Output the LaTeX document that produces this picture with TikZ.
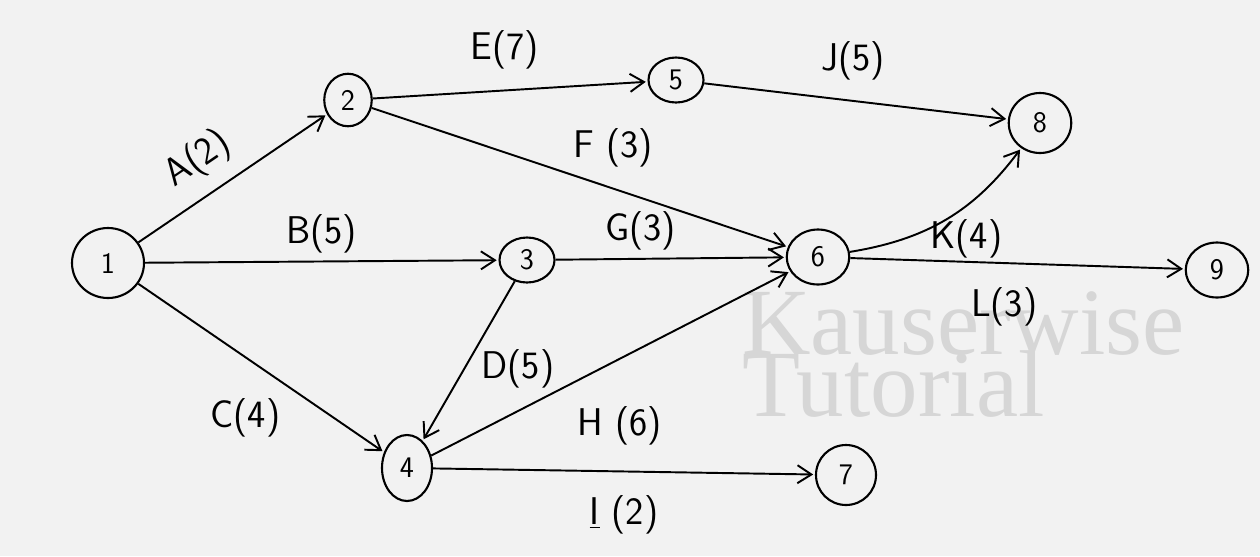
\documentclass[tikz,border=0pt]{standalone}
\usepackage{fontspec}
\newfontfamily\markfont{Liberation Serif}
\usetikzlibrary{shapes.geometric,arrows.meta}

\begin{document}
\begin{tikzpicture}[x=0.2mm,y=-0.2mm,
  ev/.style={ellipse,draw,line width=1.2pt,inner sep=0pt,
    font=\sffamily\fontsize{17}{17}\selectfont},
  act/.style={-{Straight Barb[length=2.8mm,width=3.6mm]},line width=1.1pt,shorten >=1pt},
  lab/.style={font=\sffamily\fontsize{22}{22}\selectfont}]
 \useasboundingbox (0,0) rectangle (1260,556);
 \fill[black!5] (0,0) rectangle (1260,556);
 % watermark
 \node[anchor=base west,text=black!16,font=\markfont\fontsize{54}{54}\selectfont]
   (wm1) at (736,354) {Kauserwise};
 \node[anchor=base west,text=black!16,font=\markfont\fontsize{54}{54}\selectfont]
   (wm2) at (736,416) {Tutorial};
 % events
 \node[ev,minimum width=1.44cm,minimum height=1.4cm] (n1) at (108,263) {1};
 \node[ev,minimum width=0.95cm,minimum height=1.05cm] (n2) at (348,100) {2};
 \node[ev,minimum width=1.1cm,minimum height=0.9cm] (n3) at (527,260) {3};
 \node[ev,minimum width=1.0cm,minimum height=1.32cm] (n4) at (407,468) {4};
 \node[ev,minimum width=1.1cm,minimum height=0.9cm] (n5) at (676,80) {5};
 \node[ev,minimum width=1.25cm,minimum height=1.1cm] (n6) at (818,257) {6};
 \node[ev,minimum width=1.2cm,minimum height=1.2cm] (n7) at (846,475) {7};
 \node[ev,minimum width=1.25cm,minimum height=1.2cm] (n8) at (1040,123) {8};
 \node[ev,minimum width=1.25cm,minimum height=1.1cm] (n9) at (1217,270) {9};
 % activities
 \draw[act] (n1) -- node[lab,pos=0.42,above=5pt,sloped] (lA) {A(2)} (n2);
 \draw[act] (n1) -- node[lab,pos=0.5,above=1pt] (lB) {B(5)} (n3);
 \draw[act] (n1) -- node[lab,pos=0.62,below left=2pt] (lC) {C(4)} (n4);
 \draw[act] (n3) -- node[lab,pos=0.55,right=6pt] (lD) {D(5)} (n4);
 \draw[act] (n2) -- node[lab,pos=0.48,above=8pt] (lE) {E(7)} (n5);
 \draw[act] (n2) -- node[lab,pos=0.58,above=8pt] (lF) {F (3)} (n6);
 \draw[act] (n3) -- node[lab,pos=0.37,above=1pt] (lG) {G(3)} (n6);
 \draw[act] (n4) -- node[lab,pos=0.36,below right=6pt] (lH) {H (6)} (n6);
 \draw[act] (n4) -- node[lab,pos=0.5,below=10pt] (lI) {\underline{I} (2)} (n7);
 \draw[act] (n5) -- node[lab,pos=0.49,above=8pt] (lJ) {J(5)} (n8);
 \draw[act] (n6) to[bend right=22] node[lab,pos=0.25,right=12pt] (lK) {K(4)} (n8);
 \draw[act] (n6) -- node[lab,pos=0.46,below=10pt] (lL) {L(3)} (n9);
\end{tikzpicture}
\end{document}
